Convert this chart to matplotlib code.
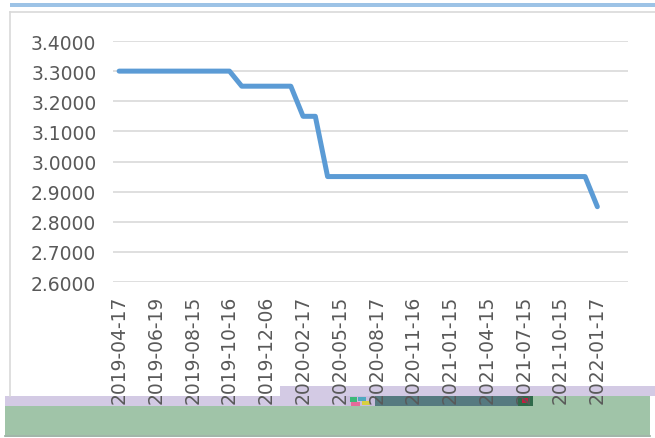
import matplotlib
matplotlib.use("Agg")
import matplotlib.pyplot as plt
from matplotlib.patches import Rectangle
from matplotlib.lines import Line2D

# ---- data ----
dates = [
    "2019-04-17", "2019-05-16", "2019-06-06", "2019-06-19", "2019-07-15",
    "2019-07-24", "2019-08-15", "2019-09-17", "2019-09-29", "2019-10-16",
    "2019-11-05", "2019-11-21", "2019-12-06", "2019-12-16", "2020-01-15",
    "2020-02-17", "2020-03-16", "2020-04-15", "2020-05-15", "2020-06-15",
    "2020-07-15", "2020-08-17", "2020-09-15", "2020-10-15", "2020-11-16",
    "2020-11-30", "2020-12-15", "2021-01-15", "2021-02-09", "2021-03-15",
    "2021-04-15", "2021-05-17", "2021-06-15", "2021-07-15", "2021-08-16",
    "2021-09-15", "2021-10-15", "2021-11-15", "2021-12-15", "2022-01-17",
]
rates = [
    3.30, 3.30, 3.30, 3.30, 3.30, 3.30, 3.30, 3.30, 3.30, 3.30,
    3.25, 3.25, 3.25, 3.25, 3.25,
    3.15, 3.15,
    2.95, 2.95, 2.95, 2.95, 2.95, 2.95, 2.95, 2.95, 2.95, 2.95, 2.95,
    2.95, 2.95, 2.95, 2.95, 2.95, 2.95, 2.95, 2.95, 2.95, 2.95, 2.95,
    2.85,
]
y_ticks = [2.6, 2.7, 2.8, 2.9, 3.0, 3.1, 3.2, 3.3, 3.4]
label_step = 3
n_slots = 42

W, H = 655, 439
fig = plt.figure(figsize=(W / 100, H / 100), dpi=100)
fig.patch.set_facecolor("white")

def fx(x):
    return x / W

def fy(y):
    return 1 - y / H

ax = fig.add_axes([fx(113), fy(283), fx(628) - fx(113), fy(42) - fy(283)])
x = list(range(len(rates)))
ax.plot(x, rates, color="#5B9BD5", linewidth=3.6, solid_capstyle="round",
        solid_joinstyle="round", zorder=3)
ax.set_xlim(-0.5, n_slots - 0.5)
ax.set_ylim(2.6, 3.4)
ax.set_yticks(y_ticks)
ax.set_yticklabels([f"{v:.4f}" for v in y_ticks])
tick_pos = list(range(0, len(dates), label_step))
ax.set_xticks(tick_pos)
ax.set_xticklabels([dates[i] for i in tick_pos], rotation=90)
ax.grid(axis="y", color="#D9D9D9", linewidth=1.2)
ax.grid(axis="x", visible=False)
ax.set_axisbelow(True)
for s in ax.spines.values():
    s.set_visible(False)
ax.tick_params(axis="both", length=0, labelsize=13.5, labelcolor="#595959")
ax.tick_params(axis="y", pad=12)
ax.tick_params(axis="x", pad=9)

# ---- decoration / frame ----
def rect(x0, y0, x1, y1, color, z, alpha=1.0):
    r = Rectangle((fx(x0), fy(y1)), fx(x1) - fx(x0), fy(y0) - fy(y1),
                  transform=fig.transFigure, facecolor=color, edgecolor="none",
                  zorder=z, alpha=alpha)
    fig.add_artist(r)

rect(10, 3.5, 655, 8, "#9DC3E6", 1)
fig.add_artist(Line2D([fx(10), fx(655)], [fy(12.5), fy(12.5)], color="#D9D9D9",
                      linewidth=1.2, transform=fig.transFigure))
fig.add_artist(Line2D([fx(10), fx(10)], [fy(12.5), fy(397)], color="#D9D9D9",
                      linewidth=1.2, transform=fig.transFigure))

# artifact bands at the bottom
rect(280, 387, 655, 397, "#D3CAE4", -1)
rect(5, 397, 345, 407, "#D3CAE4", -1)
rect(375, 397, 518, 407, "#567A80", -1)
rect(533, 397, 650, 407, "#A0C4A8", -1)
rect(345, 397, 375, 407, "#C8BEDC", -1)
rect(350, 398, 357, 403, "#3CB878", -1)
rect(358, 398, 366, 402, "#4FA8C0", -1)
rect(351, 403, 360, 407, "#E66A9A", -1)
rect(362, 402, 370, 406, "#D8D040", -1)
rect(518, 397, 533, 407, "#2F6A4A", -1)
rect(522, 399, 528, 404, "#C02040", -1)
rect(5, 407, 345, 436, "#A0C4A8", 5)
rect(345, 407, 650, 436, "#A0C4A8", -1)
fig.add_artist(Line2D([fx(5), fx(650)], [fy(436.5), fy(436.5)], color="#8FA898",
                      linewidth=1.2, transform=fig.transFigure, zorder=5))

fig.savefig("out.png", dpi=100, facecolor="white")
